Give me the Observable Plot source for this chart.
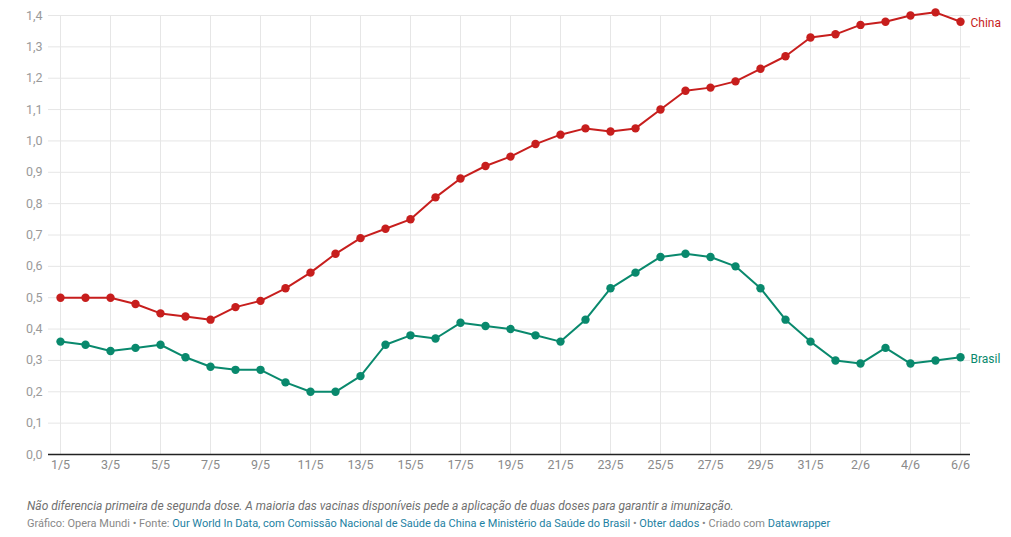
<!DOCTYPE html>
<html>
<head>
<meta charset="utf-8">
<script src="https://cdn.jsdelivr.net/npm/d3@7"></script>
<script src="https://cdn.jsdelivr.net/npm/@observablehq/plot@0.6"></script>
<style>
  body { margin: 0; background: #fff; font-family: Roboto, "Noto Sans", sans-serif; }
  #chart { position: relative; width: 1011px; }
  .notes { margin: 18px 0 0 27px; font-size: 12px; font-style: italic; color: #707070; line-height: 16px; }
  .source { margin: 2px 0 0 27px; font-size: 11px; color: #888; line-height: 15px; }
  .source a { color: #1d81a2; text-decoration: none; }
</style>
</head>
<body>
<div id="chart"></div>
<div class="notes">Não diferencia primeira de segunda dose. A maioria das vacinas disponíveis pede a aplicação de duas doses para garantir a imunização.</div>
<div class="source">Gráfico: Opera Mundi • Fonte: <a>Our World In Data, com Comissão Nacional de Saúde da China e Ministério da Saúde do Brasil</a> • <a>Obter dados</a> • Criado com <a>Datawrapper</a></div>
<script>
const days = ["1/5","2/5","3/5","4/5","5/5","6/5","7/5","8/5","9/5","10/5","11/5","12/5","13/5","14/5","15/5","16/5","17/5","18/5","19/5","20/5","21/5","22/5","23/5","24/5","25/5","26/5","27/5","28/5","29/5","30/5","31/5","1/6","2/6","3/6","4/6","5/6","6/6"];
const china = [0.50,0.50,0.50,0.48,0.45,0.44,0.43,0.47,0.49,0.53,0.58,0.64,0.69,0.72,0.75,0.82,0.88,0.92,0.95,0.99,1.02,1.04,1.03,1.04,1.10,1.16,1.17,1.19,1.23,1.27,1.33,1.34,1.37,1.38,1.40,1.41,1.38];
const brasil = [0.36,0.35,0.33,0.34,0.35,0.31,0.28,0.27,0.27,0.23,0.20,0.20,0.25,0.35,0.38,0.37,0.42,0.41,0.40,0.38,0.36,0.43,0.53,0.58,0.63,0.64,0.63,0.60,0.53,0.43,0.36,0.30,0.29,0.34,0.29,0.30,0.31];
const xTicks = ["1/5","3/5","5/5","7/5","9/5","11/5","13/5","15/5","17/5","19/5","21/5","23/5","25/5","27/5","29/5","31/5","2/6","4/6","6/6"];
const yTicks = [0,0.1,0.2,0.3,0.4,0.5,0.6,0.7,0.8,0.9,1.0,1.1,1.2,1.3,1.4];
const seriesNames = ["China","Brasil"];
const seriesColors = ["#c71e1d","#09896d"];

const rows = [];
days.forEach((d, i) => {
  rows.push({day: d, country: "China", value: china[i]});
  rows.push({day: d, country: "Brasil", value: brasil[i]});
});

const fmt = v => d3.format(".1f")(v).replace(".", ",");

const chart = Plot.plot({
  width: 1011,
  height: 480,
  marginLeft: 48,
  marginRight: 41,
  marginTop: 15,
  marginBottom: 26,
  style: {fontFamily: "Roboto, sans-serif", fontSize: "12px", background: "#fff"},
  x: {type: "point", domain: days, padding: 0, insetLeft: 10, insetRight: 9, label: null},
  y: {domain: [0, 1.4], label: null},
  color: {domain: seriesNames, range: seriesColors},
  marks: [
    Plot.gridY(yTicks, {stroke: "#e6e6e6", strokeOpacity: 1}),
    Plot.gridX(xTicks, {stroke: "#e6e6e6", strokeOpacity: 1}),
    Plot.axisY(yTicks, {tickSize: 0, tickPadding: 6, tickFormat: fmt, fill: "#9a9a9a", fontSize: 12.5, label: null}),
    Plot.axisX(xTicks, {tickSize: 0, tickPadding: 6, fill: "#8a8a8a", fontSize: 12.5, label: null}),
    Plot.ruleY([0], {stroke: "#222", strokeWidth: 1.5}),
    Plot.line(rows, {x: "day", y: "value", z: "country", stroke: "country", strokeWidth: 2}),
    Plot.dot(rows, {x: "day", y: "value", fill: "country", r: 4.2}),
    Plot.text(rows, Plot.selectLast({x: "day", y: "value", z: "country", text: "country", fill: "country", dx: 10, dy: 1.5, textAnchor: "start", fontSize: 12}))
  ]
});
document.getElementById("chart").append(chart);
</script>
</body>
</html>
